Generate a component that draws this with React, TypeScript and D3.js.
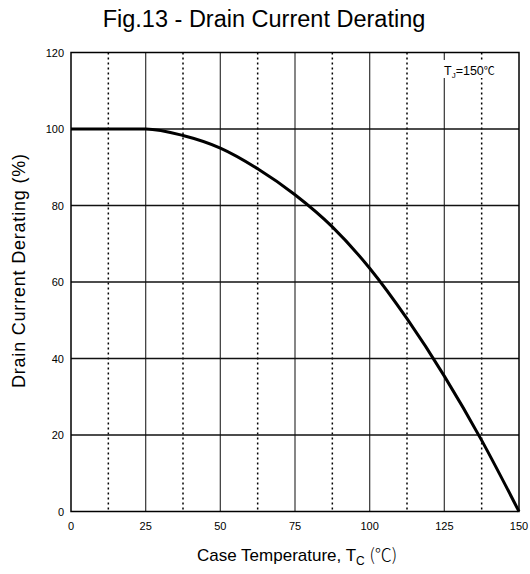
import React from "react";
import * as d3 from "d3";

const temps = [0, 12.5, 25, 37.5, 50, 62.5, 75, 87.5, 100, 112.5, 125, 137.5, 150];
const derating = [100, 100, 100, 98.3, 95.0, 89.6, 82.8, 74.4, 63.6, 50.4, 35.4, 18.6, 0];
const xTicks = [0, 25, 50, 75, 100, 125, 150];
const xMinor = [12.5, 37.5, 62.5, 87.5, 112.5, 137.5];
const yTicks = [0, 20, 40, 60, 80, 100, 120];

const W = 530, H = 574;
const L = 71, R = 519, T = 52.5, B = 511.5;

export default function App() {
  const x = d3.scaleLinear().domain([0, 150]).range([L, R]);
  const y = d3.scaleLinear().domain([0, 120]).range([B, T]);
  const pts = temps.map((t, i) => [t, derating[i]] as [number, number]);
  const line = d3.line<[number, number]>().x(d => x(d[0])).y(d => y(d[1])).curve(d3.curveMonotoneX);
  const font = "Arial, 'Liberation Sans', sans-serif";
  const cjk = "'Noto Sans CJK SC', sans-serif";
  return (
    <svg width={W} height={H} style={{ position: "absolute", left: 0, top: 0, background: "#fff" }}>
      <rect width={W} height={H} fill="#fff" />
      <text x={264} y={27} textAnchor="middle" fontFamily={font} fontSize={23.5} fill="#000">Fig.13 - Drain Current Derating</text>
      {xMinor.map(v => (
        <line key={"m" + v} x1={x(v)} x2={x(v)} y1={T} y2={B} stroke="#000" strokeWidth={1.5} strokeDasharray="2,3" />
      ))}
      {xTicks.slice(1, -1).map(v => (
        <line key={"vx" + v} x1={x(v)} x2={x(v)} y1={T} y2={B} stroke="#444" strokeWidth={1.3} />
      ))}
      {yTicks.slice(1, -1).map(v => (
        <line key={"hy" + v} x1={L} x2={R} y1={y(v)} y2={y(v)} stroke="#111" strokeWidth={1.3} />
      ))}
      <rect x={L} y={T} width={R - L} height={B - T} fill="none" stroke="#000" strokeWidth={1.5} />
      <path d={line(pts) || ""} fill="none" stroke="#000" strokeWidth={3} />
      {yTicks.map(v => (
        <text key={"yt" + v} x={64} y={y(v) + 4} textAnchor="end" fontFamily={font} fontSize={11} fill="#000">{v}</text>
      ))}
      {xTicks.map(v => (
        <text key={"xt" + v} x={x(v)} y={529.5} textAnchor="middle" fontFamily={font} fontSize={11} fill="#000">{v}</text>
      ))}
      <rect x={441} y={60} width={58} height={18} fill="#fff" />
      <text x={444} y={75} fontFamily={font} fontSize={12.5} fill="#000">
        T<tspan dy={3} fontSize={8}>J</tspan><tspan dy={-3}>=150</tspan><tspan fontFamily={cjk} fontSize={11}>℃</tspan>
      </text>
      <text x={197} y={561} fontFamily={font} fontSize={17} fill="#000">
        Case Temperature, T<tspan dy={4} fontSize={12}>C</tspan><tspan dy={-4}> </tspan><tspan fontFamily={cjk} fontWeight={300}>(℃)</tspan>
      </text>
      <text transform={`translate(25, 388) rotate(-90)`} textAnchor="start" fontFamily={font} fontSize={18} textLength={234} lengthAdjust="spacing" fill="#000">
        Drain Current Derating (%)
      </text>
    </svg>
  );
}
